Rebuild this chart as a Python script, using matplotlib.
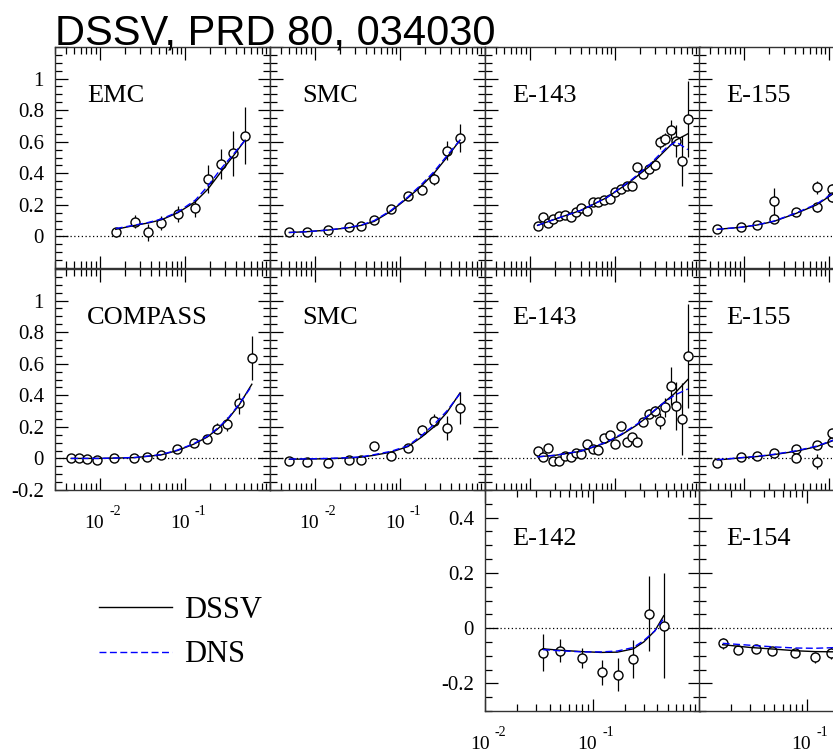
import numpy as np
import matplotlib
matplotlib.use('Agg')
import matplotlib.pyplot as plt
from matplotlib.ticker import FixedLocator, FixedFormatter, LogLocator, NullFormatter, MultipleLocator

plt.rcParams['font.family'] = ['Liberation Serif', 'DejaVu Serif']

# ---- data ----
# EMC (top row)
emc_x = [0.0155, 0.0264, 0.037, 0.0533, 0.0826, 0.133, 0.187, 0.267, 0.371, 0.509]
emc_y = [0.026, 0.093, 0.026, 0.083, 0.142, 0.18, 0.363, 0.456, 0.526, 0.638]
emc_e = [0.03, 0.04, 0.055, 0.045, 0.05, 0.06, 0.09, 0.095, 0.145, 0.18]
emc_cx = [0.0155, 0.026, 0.037, 0.053, 0.083, 0.133, 0.187, 0.267, 0.371, 0.51]
emc_dssv = [0.045, 0.07, 0.085, 0.105, 0.15, 0.22, 0.30, 0.41, 0.51, 0.61]
emc_dns = [0.05, 0.072, 0.088, 0.11, 0.155, 0.23, 0.32, 0.43, 0.52, 0.61]

# SMC (top row)
smc1_x = [0.00505, 0.00805, 0.0142, 0.0252, 0.0353, 0.05, 0.0789, 0.1247, 0.18, 0.252, 0.356, 0.509]
smc1_y = [0.03, 0.03, 0.04, 0.062, 0.068, 0.104, 0.174, 0.254, 0.296, 0.363, 0.543, 0.625]
smc1_e = [0.01, 0.01, 0.01, 0.015, 0.015, 0.015, 0.02, 0.025, 0.03, 0.04, 0.06, 0.09]
smc1_dssv = [0.025, 0.03, 0.04, 0.055, 0.07, 0.095, 0.16, 0.245, 0.32, 0.4, 0.5, 0.61]
smc1_dns = [0.025, 0.03, 0.04, 0.057, 0.072, 0.1, 0.165, 0.25, 0.33, 0.41, 0.51, 0.61]

# E-143 (top row)
e143_x = [0.0124, 0.0142, 0.0163, 0.0187, 0.022, 0.0261, 0.0303, 0.0353, 0.0406, 0.0478,
          0.0548, 0.0641, 0.0755, 0.088, 0.101, 0.119, 0.139, 0.16, 0.183, 0.216,
          0.252, 0.294, 0.337, 0.391, 0.456, 0.524, 0.617, 0.721]
e143a_y = [0.064, 0.125, 0.083, 0.11, 0.127, 0.135, 0.123, 0.153, 0.182, 0.163,
           0.216, 0.216, 0.231, 0.237, 0.279, 0.3, 0.321, 0.321, 0.437, 0.395,
           0.427, 0.452, 0.596, 0.617, 0.676, 0.606, 0.479, 0.743]
e143a_e = [0.02, 0.02, 0.015, 0.015, 0.015, 0.015, 0.015, 0.015, 0.015, 0.015,
           0.015, 0.015, 0.015, 0.015, 0.02, 0.02, 0.02, 0.02, 0.02, 0.025,
           0.025, 0.03, 0.04, 0.04, 0.06, 0.1, 0.16, 0.24]
e143a_cx = [0.0124, 0.02, 0.04, 0.08, 0.15, 0.25, 0.4, 0.52, 0.72]
e143a_dssv = [0.07, 0.11, 0.165, 0.245, 0.345, 0.44, 0.55, 0.61, 0.65]
e143a_dns = [0.07, 0.11, 0.165, 0.245, 0.35, 0.45, 0.56, 0.6, 0.55]

# E-155 (top row)
e155a_x = [0.00488, 0.0094, 0.0143, 0.0226, 0.0226, 0.0409, 0.0721, 0.0721, 0.109, 0.109]
e155a_y = [0.047, 0.058, 0.072, 0.222, 0.11, 0.157, 0.31, 0.184, 0.30, 0.25]
e155a_e = [0.01, 0.01, 0.015, 0.085, 0.02, 0.02, 0.04, 0.03, 0.03, 0.03]
e155_cx = [0.0049, 0.0094, 0.0143, 0.0226, 0.041, 0.072, 0.109, 0.16]
e155a_dssv = [0.045, 0.058, 0.072, 0.095, 0.145, 0.2, 0.265, 0.35]
e155a_dns = [0.045, 0.058, 0.073, 0.097, 0.148, 0.205, 0.27, 0.36]

# COMPASS (middle row)
comp_x = [0.00464, 0.00569, 0.00714, 0.0094, 0.0148, 0.0256, 0.0363, 0.0524, 0.082,
          0.127, 0.183, 0.241, 0.317, 0.436, 0.612]
comp_y = [0.005, 0.0, -0.003, -0.01, 0.0, 0.0, 0.01, 0.02, 0.06, 0.1, 0.12, 0.187,
          0.218, 0.348, 0.634]
comp_e = [0.01, 0.01, 0.01, 0.01, 0.01, 0.01, 0.01, 0.01, 0.015, 0.02, 0.025, 0.035,
          0.045, 0.065, 0.14]
comp_cx = [0.00464, 0.01, 0.026, 0.0524, 0.082, 0.127, 0.183, 0.241, 0.317, 0.436, 0.612]
comp_dssv = [0.0, 0.0, 0.005, 0.022, 0.05, 0.09, 0.135, 0.185, 0.245, 0.34, 0.47]
comp_dns = [0.0, 0.0, 0.006, 0.024, 0.053, 0.093, 0.14, 0.19, 0.25, 0.345, 0.46]

# SMC (middle row)
smc2_y = [-0.016, -0.02, -0.027, -0.01, -0.013, 0.08, 0.018, 0.069, 0.182, 0.24, 0.193, 0.32]
smc2_e = [0.01, 0.01, 0.012, 0.012, 0.012, 0.015, 0.02, 0.025, 0.03, 0.04, 0.075, 0.1]
smc2_dssv = [-0.005, -0.004, -0.002, 0.003, 0.008, 0.02, 0.04, 0.075, 0.135, 0.2, 0.29, 0.415]
smc2_dns = [-0.004, -0.003, 0.0, 0.005, 0.01, 0.024, 0.045, 0.08, 0.145, 0.215, 0.3, 0.41]

# E-143 (middle row)
e143b_y = [0.048, 0.012, 0.065, -0.014, -0.014, 0.016, 0.012, 0.033, 0.027, 0.09,
           0.058, 0.054, 0.128, 0.15, 0.09, 0.203, 0.107, 0.133, 0.107, 0.231,
           0.284, 0.299, 0.235, 0.325, 0.459, 0.331, 0.25, 0.65]
e143b_e = [0.02, 0.02, 0.02, 0.015, 0.015, 0.015, 0.015, 0.015, 0.015, 0.015,
           0.015, 0.015, 0.015, 0.02, 0.02, 0.02, 0.02, 0.02, 0.02, 0.025,
           0.03, 0.035, 0.05, 0.06, 0.12, 0.15, 0.23, 0.33]
e143b_cx = [0.0124, 0.02, 0.04, 0.08, 0.12, 0.18, 0.25, 0.35, 0.5, 0.72]
e143b_dssv = [0.01, 0.02, 0.045, 0.1, 0.15, 0.21, 0.27, 0.34, 0.41, 0.5]
e143b_dns = [0.01, 0.02, 0.047, 0.103, 0.155, 0.215, 0.275, 0.34, 0.4, 0.44]

# E-155 (middle row)
e155b_x = [0.00488, 0.0094, 0.0143, 0.0226, 0.0409, 0.0409, 0.0721, 0.0721, 0.109, 0.109]
e155b_y = [-0.03, 0.012, 0.018, 0.033, 0.058, 0.003, 0.086, -0.02, 0.107, 0.16]
e155b_e = [0.01, 0.01, 0.01, 0.012, 0.015, 0.012, 0.02, 0.05, 0.02, 0.02]
e155b_dssv = [-0.01, 0.004, 0.012, 0.024, 0.045, 0.075, 0.11, 0.15]
e155b_dns = [-0.008, 0.005, 0.013, 0.026, 0.048, 0.078, 0.113, 0.155]

# E-142 (bottom row)
e142_x = [0.0346, 0.0495, 0.08, 0.123, 0.172, 0.24, 0.336, 0.464]
e142_y = [-0.09, -0.081, -0.108, -0.16, -0.169, -0.112, 0.052, 0.009]
e142_e = [0.067, 0.042, 0.036, 0.045, 0.06, 0.07, 0.136, 0.19]
e142_cx = [0.0346, 0.05, 0.08, 0.12, 0.17, 0.24, 0.3, 0.38, 0.46]
e142_dssv = [-0.075, -0.08, -0.085, -0.088, -0.087, -0.075, -0.05, -0.01, 0.045]
e142_dns = [-0.078, -0.082, -0.086, -0.086, -0.083, -0.07, -0.045, -0.01, 0.035]

# E-154 (bottom row)
e154_x = [0.0166, 0.0233, 0.0341, 0.0478, 0.0789, 0.1196, 0.168]
e154_y = [-0.054, -0.078, -0.075, -0.084, -0.09, -0.105, -0.09]
e154_e = [0.02, 0.015, 0.015, 0.015, 0.015, 0.02, 0.02]
e154_cx = [0.0166, 0.03, 0.05, 0.08, 0.12, 0.2]
e154_dssv = [-0.06, -0.07, -0.076, -0.082, -0.085, -0.086]
e154_dns = [-0.055, -0.062, -0.068, -0.072, -0.073, -0.07]

W, H = 833, 752
fig = plt.figure(figsize=(W / 100, H / 100), dpi=100)

col_left = [55, 270, 485, 699]
row_top = [47, 269, 490]
pw, ph = 215, 221

big_ylab = ['-0.2', '0', '0.2', '0.4', '0.6', '0.8', '1', '']
top_ylab = [''] + big_ylab[1:]
xlab_full = [(0.01, '-2'), (0.1, '-1')]
xlab_one = [(0.1, '-1')]

# (name, row, col, label x, points x, y, err, curve x, dssv, dns, ylabels, xlabels)
panels = [
    ('EMC', 0, 0, 0.15, emc_x, emc_y, emc_e, emc_cx, emc_dssv, emc_dns, top_ylab, None),
    ('SMC', 0, 1, 0.15, smc1_x, smc1_y, smc1_e, smc1_x, smc1_dssv, smc1_dns, None, None),
    ('E-143', 0, 2, 0.125, e143_x, e143a_y, e143a_e, e143a_cx, e143a_dssv, e143a_dns, None, None),
    ('E-155', 0, 3, 0.125, e155a_x, e155a_y, e155a_e, e155_cx, e155a_dssv, e155a_dns, None, None),
    ('COMPASS', 1, 0, 0.15, comp_x, comp_y, comp_e, comp_cx, comp_dssv, comp_dns, big_ylab, xlab_full),
    ('SMC', 1, 1, 0.15, smc1_x, smc2_y, smc2_e, smc1_x, smc2_dssv, smc2_dns, None, xlab_full),
    ('E-143', 1, 2, 0.125, e143_x, e143b_y, e143b_e, e143b_cx, e143b_dssv, e143b_dns, None, None),
    ('E-155', 1, 3, 0.125, e155b_x, e155b_y, e155b_e, e155_cx, e155b_dssv, e155b_dns, None, None),
    ('E-142', 2, 2, 0.125, e142_x, e142_y, e142_e, e142_cx, e142_dssv, e142_dns,
     ['-0.2', '0', '0.2', '0.4'], xlab_full),
    ('E-154', 2, 3, 0.125, e154_x, e154_y, e154_e, e154_cx, e154_dssv, e154_dns, None, xlab_one),
]

handles = None
for name, r, c, lx, px, py, pe, cx, dssv, dns, ylab, xlab in panels:
    left, top = col_left[c], row_top[r]
    ax = fig.add_axes([left / W, 1 - (top + ph) / H, pw / W, ph / H])
    ax.set_xscale('log')
    if r < 2:
        ax.set_xlim(0.003, 1.0)
        ax.set_ylim(-0.2, 1.2)
        yt = [-0.2, 0, 0.2, 0.4, 0.6, 0.8, 1.0, 1.2]
    else:
        ax.set_xlim(0.01, 1.0)
        ax.set_ylim(-0.3, 0.5)
        yt = [-0.2, 0, 0.2, 0.4]

    ax.axhline(0, color='k', lw=0.9, dashes=(1, 2), zorder=1)
    ax.errorbar(px, py, yerr=pe, fmt='o', ms=6.5, mfc='white', mec='k', mew=1.0,
                ecolor='k', elinewidth=0.9, capsize=0, zorder=3)
    l1, = ax.plot(cx, dssv, color='k', lw=1.0, zorder=4)
    l2, = ax.plot(cx, dns, color='blue', lw=1.0, dashes=(5, 2.5), zorder=5)
    if handles is None:
        handles = [l1, l2]

    ax.text(lx, 0.75, name, transform=ax.transAxes, fontsize=19, va='baseline')

    ax.yaxis.set_major_locator(FixedLocator(yt))
    ax.yaxis.set_minor_locator(MultipleLocator(0.05))
    ax.xaxis.set_major_locator(FixedLocator([0.01, 0.1, 1.0]))
    ax.xaxis.set_minor_locator(LogLocator(base=10, subs=np.arange(2, 10), numticks=20))
    ax.xaxis.set_minor_formatter(NullFormatter())
    ax.tick_params(labelbottom=False)
    if ylab is not None:
        ax.yaxis.set_major_formatter(FixedFormatter(ylab))
    else:
        ax.tick_params(labelleft=False)
    if xlab is not None:
        # "10" with a raised, spaced exponent as in the original
        for tx, ex in xlab:
            ax.annotate('10', xy=(tx, 0), xycoords=('data', 'axes fraction'),
                        xytext=(3.4, -27.4), textcoords='offset points',
                        ha='right', va='baseline', fontsize=14, annotation_clip=False)
            ax.annotate(ex, xy=(tx, 0), xycoords=('data', 'axes fraction'),
                        xytext=(7.0, -18.0), textcoords='offset points',
                        ha='left', va='baseline', fontsize=10, annotation_clip=False)

    ax.tick_params(which='both', direction='in', top=True, right=True, width=0.9)
    ax.tick_params(which='major', length=9)
    ax.tick_params(which='minor', length=5)
    ax.tick_params(axis='y', labelsize=15, pad=8)
    for s in ax.spines.values():
        s.set_linewidth(1.0)
        s.set_color('0.2')

fig.text(55 / W, 1 - 44 / H, 'DSSV, PRD 80, 034030', family='Liberation Sans',
         fontsize=30, va='baseline')

fig.legend(handles, ['DSSV', 'DNS'], loc='upper left', bbox_to_anchor=(99 / W, 1 - 596 / H),
           frameon=False, fontsize=22, handlelength=2.4, handletextpad=0.4,
           labelspacing=0.5, borderpad=0, borderaxespad=0)

fig.savefig('out.png', dpi=100)
